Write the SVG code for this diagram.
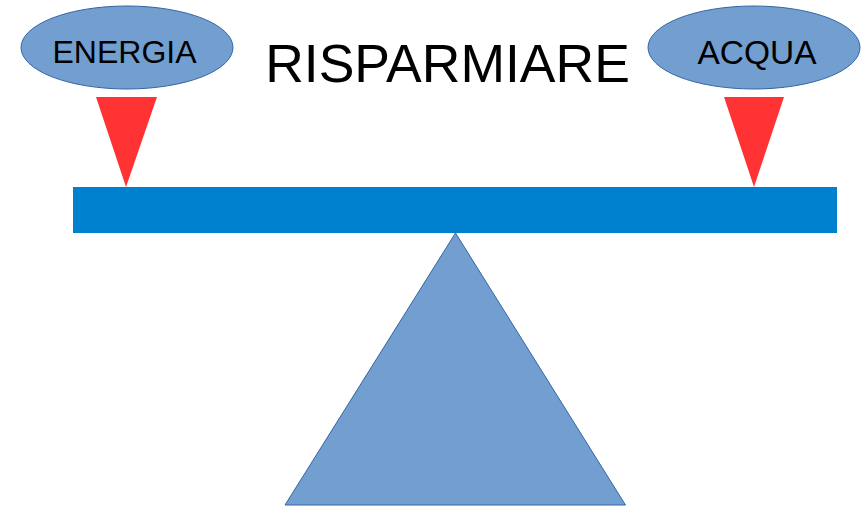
<svg xmlns="http://www.w3.org/2000/svg" width="866" height="507" viewBox="0 0 866 507">
<style>
.bubble{fill:#729fcf;stroke:#3465a4;stroke-width:1}
.weight{fill:#ff3333;stroke:none}
.lbl{font-family:"Liberation Sans",Arial,sans-serif;fill:#000;text-anchor:middle}
</style>
<rect width="866" height="507" fill="#fff"/>
<g id="title"><text class="lbl" x="447.5" y="82" font-size="53.5">RISPARMIARE</text></g>
<g id="energia">
<ellipse class="bubble" cx="127" cy="47.5" rx="106" ry="41.5"/>
<text class="lbl" x="124.5" y="63" font-size="32">ENERGIA</text>
</g>
<g id="acqua">
<ellipse class="bubble" cx="754" cy="47.5" rx="106" ry="41.5"/>
<text class="lbl" x="757" y="64" font-size="33.5">ACQUA</text>
</g>
<g id="connectors">
<polygon class="weight" points="96,97 157,97 126,187"/>
<polygon class="weight" points="724,97 784,97 754,187"/>
</g>
<g id="beam"><rect x="73" y="187" width="764" height="46" fill="#0081cf"/></g>
<g id="fulcrum"><polygon class="bubble" points="455.5,233 625.5,505 285,505"/></g>
</svg>
